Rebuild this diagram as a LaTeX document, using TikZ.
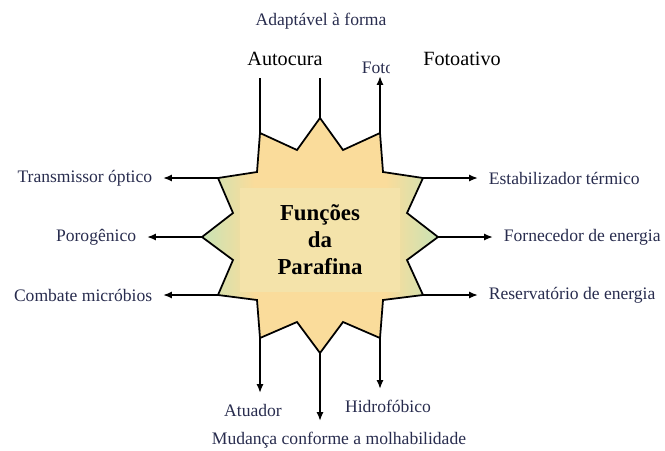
\documentclass[tikz,border=0pt]{standalone}
\usepackage{fontspec}
\setmainfont{Liberation Serif}
\usetikzlibrary{arrows.meta,positioning}

\definecolor{waxyellow}{RGB}{250,220,155}
\definecolor{waxcore}{RGB}{244,227,170}
\definecolor{leafgreen}{RGB}{201,227,181}
\definecolor{inkblue}{RGB}{40,44,78}
\pgfdeclarehorizontalshading{waxshade}{100bp}{color(0bp)=(leafgreen); color(25bp)=(leafgreen); color(36bp)=(waxyellow); color(64bp)=(waxyellow); color(75bp)=(leafgreen); color(100bp)=(leafgreen)}

\begin{document}
\begin{tikzpicture}[
  x=0.02cm, y=-0.02cm,
  node distance=1.1cm,
  lbl/.style={text=inkblue, font=\fontsize{10}{12}\selectfont, inner sep=6pt},
  biglbl/.style={text=black, font=\fontsize{11.5}{14}\selectfont},
  arrow/.style={-{Latex[length=5pt,width=4pt]}, line width=1pt},
  stem/.style={line width=1pt},
  starline/.style={draw, line width=1pt}
]
\useasboundingbox (0,0) rectangle (665,450);

% star of the paraffin
\path[starline, shade, shading=waxshade]
  (260,133) coordinate (tl) -- (297,150) -- (320,118) coordinate (tp) -- (343,150)
  -- (380,133) coordinate (tr) -- (383,172) -- (423,178) coordinate (rt)
  -- (407,213) -- (438,237) coordinate (rp) -- (407,260) -- (423,295) coordinate (rb)
  -- (383,300) -- (380,338) coordinate (br) -- (343,322) -- (320,353) coordinate (bp)
  -- (297,322) -- (260,338) coordinate (bl) -- (257,300) -- (218,295) coordinate (lb)
  -- (233,260) -- (202,237) coordinate (lp) -- (233,213) -- (218,178) coordinate (lt)
  -- (257,172) -- cycle;
\fill[waxcore] (240,188) rectangle (400,292);
\node[font=\fontsize{13}{15.3}\selectfont\bfseries, align=center] (title) at (320,240) {Funções\\da\\Parafina};

% top
\node[lbl] (adapt) at (321,21) {Adaptável à forma};
\node[biglbl] (autocura) at (285,59) {Autocura};
\node[biglbl] (fotoativo) at (462,59) {Fotoativo};
\begin{scope}
  \clip (350,45) rectangle (389,90);
  \node[lbl, anchor=south, inner ysep=1pt] (foto) at (378,76) {Foto};
\end{scope}
\coordinate (autotop) at (260,78);
\coordinate (adapttop) at (320,78);
\draw[stem] (tl) -- (autotop);
\draw[stem] (tp) -- (adapttop);
\draw[arrow] (tr) -- (tr |- foto.south);

% left
\node[lbl, left=of lt] (optico) {Transmissor óptico};
\node[lbl, left=of lp] (poro) {Porogênico};
\node[lbl, left=of lb] (micro) {Combate micróbios};
\draw[arrow] (lt) -- (optico.east);
\draw[arrow] (lp) -- (poro.east);
\draw[arrow] (lb) -- (micro.east);

% right
\node[lbl, right=of rt] (termico) {Estabilizador térmico};
\node[lbl, right=of rp] (fornec) {Fornecedor de energia};
\node[lbl, right=of rb] (reserv) {Reservatório de energia};
\draw[arrow] (rt) -- (termico.west);
\draw[arrow] (rp) -- (fornec.west);
\draw[arrow] (rb) -- (reserv.west);

% bottom
\node[lbl, below=1.1cm of bl, xshift=-0.14cm] (atuador) {Atuador};
\node[lbl, below=1.02cm of br, xshift=0.16cm] (hidro) {Hidrofóbico};
\node[lbl, below=1.36cm of bp, xshift=0.38cm] (molha) {Mudança conforme a molhabilidade};
\draw[arrow] (bl) -- (bl |- atuador.north);
\draw[arrow] (br) -- (br |- hidro.north);
\draw[arrow] (bp) -- (bp |- molha.north);
\end{tikzpicture}
\end{document}
